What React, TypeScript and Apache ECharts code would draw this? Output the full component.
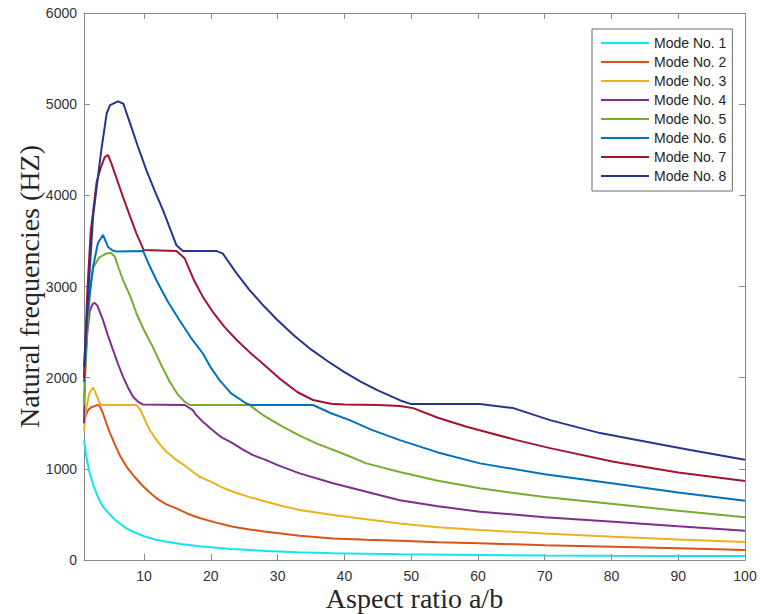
import { useEffect, useRef } from "react";
import * as echarts from "echarts";

const modeNames = [
  "Mode No. 1",
  "Mode No. 2",
  "Mode No. 3",
  "Mode No. 4",
  "Mode No. 5",
  "Mode No. 6",
  "Mode No. 7",
  "Mode No. 8",
];

const modeColors = [
  "#12E4F0",
  "#D95319",
  "#EDB120",
  "#7E2F8E",
  "#77AC30",
  "#0072BD",
  "#A2142F",
  "#26358F",
];

const xTicks = [10, 20, 30, 40, 50, 60, 70, 80, 90, 100];

const mode1: [number, number][] = [
  [1, 1310], [1.36, 1130], [1.86, 950], [2.4, 820], [2.86, 731], [3.36, 650],
  [3.85, 584], [4.85, 500], [5.6, 445], [6.35, 400], [7.3, 350], [8.35, 310],
  [10, 260], [11.5, 228], [13.35, 201], [15.5, 175], [18.3, 150], [23, 120],
  [28.3, 100], [33, 85], [38.3, 75], [48.3, 62], [60, 55], [70, 50], [80, 47],
  [90, 45], [100, 44],
];

const mode2: [number, number][] = [
  [1, 1500], [1.3, 1590], [1.6, 1644], [2.1, 1675], [2.6, 1688], [3.0, 1700],
  [3.36, 1690], [3.85, 1607], [4.35, 1500], [4.85, 1400], [5.6, 1270], [6.35, 1150],
  [7.5, 1010], [8.6, 910], [9.7, 820], [10.85, 740], [12, 670], [13.35, 610],
  [15, 560], [16.6, 505], [18.3, 460], [20.8, 410], [23.3, 365], [25.8, 335],
  [28.3, 310], [33.3, 265], [38.3, 235], [43.3, 222], [48.3, 210], [54, 195],
  [60.3, 183], [70, 163], [80.3, 146], [90, 128], [100, 110],
];

const mode3: [number, number][] = [
  [1, 1420], [1.3, 1650], [1.8, 1830], [2.35, 1893], [2.8, 1820], [3.36, 1717],
  [3.8, 1700], [8.86, 1700], [9.5, 1640], [10.35, 1498], [10.85, 1425], [12, 1300],
  [13.35, 1187], [14.6, 1110], [16, 1040], [18.3, 913], [20, 860], [21.6, 800],
  [23.3, 749], [25.8, 690], [28.3, 639], [30.8, 590], [33.3, 548], [38.3, 493],
  [43.3, 446], [48.3, 400], [54, 360], [60.3, 329], [70, 290], [80.3, 255],
  [90, 225], [100, 197],
];

const mode4: [number, number][] = [
  [1, 1500], [1.15, 2100], [1.5, 2500], [1.86, 2730], [2.3, 2810], [2.6, 2820],
  [3, 2790], [3.85, 2630], [4.6, 2460], [5.35, 2302], [6.1, 2150], [6.85, 2009],
  [7.6, 1890], [8.35, 1790], [9.1, 1735], [9.85, 1705], [16.1, 1700], [17.3, 1644],
  [17.8, 1590], [18.9, 1510], [20, 1440], [21.5, 1350], [23.3, 1280], [24.8, 1210],
  [26.3, 1150], [28.3, 1096], [30, 1040], [33.3, 950], [38.3, 841], [43.3, 749],
  [48.3, 655], [54, 590], [60.3, 529], [70, 470], [80.3, 420], [90, 370],
  [100, 321],
];

const mode5: [number, number][] = [
  [1, 1700], [1.5, 2550], [2, 3020], [2.4, 3210], [3.3, 3320], [4.3, 3360],
  [5, 3370], [5.6, 3330], [6.2, 3200], [6.85, 3069], [8, 2880], [8.86, 2704],
  [10, 2520], [11.3, 2338], [12.5, 2150], [13.8, 1960], [15, 1820], [16.1, 1735],
  [16.85, 1700], [25.8, 1700], [26.5, 1660], [28, 1580], [30.8, 1461], [33.3, 1365],
  [35.8, 1279], [40, 1160], [43.3, 1060], [48.3, 965], [54, 870], [60.3, 786],
  [70, 690], [80.3, 614], [90, 540], [100, 468],
];

const mode6: [number, number][] = [
  [1, 1950], [1.5, 2700], [2.35, 3215], [3.1, 3480], [3.85, 3565], [4.6, 3434],
  [5.3, 3395], [5.85, 3385], [9.85, 3390], [10.8, 3230], [11.85, 3069], [13.5, 2840],
  [15.3, 2630], [17, 2440], [18.8, 2265], [20, 2110], [21.3, 1973], [23, 1830],
  [25.3, 1717], [26, 1700], [35.3, 1700], [38, 1610], [40.8, 1534], [44, 1430],
  [48.3, 1315], [54, 1180], [60.3, 1060], [70, 940], [80.3, 840], [90, 740],
  [100, 650],
];

const mode7: [number, number][] = [
  [1, 2000], [1.5, 2950], [2, 3600], [2.9, 4150], [3.5, 4300], [4.1, 4420],
  [4.6, 4440], [5.1, 4350], [6, 4160], [6.85, 3980], [7.9, 3770], [8.86, 3580],
  [9.95, 3400], [14.85, 3390], [16.1, 3307], [17.4, 3080], [18.8, 2886], [20.4, 2710],
  [22, 2560], [23.9, 2410], [25.8, 2280], [28, 2140], [30.3, 1990], [33, 1840],
  [35.3, 1755], [38, 1715], [40, 1705], [45, 1700], [48.3, 1688], [50.3, 1666],
  [54, 1560], [58.3, 1461], [65.8, 1315], [70.8, 1227], [80.3, 1077], [90, 960],
  [100, 866],
];

const mode8: [number, number][] = [
  [1, 2120], [1.7, 3000], [2.35, 3760], [2.9, 4090], [3.6, 4500], [4.4, 4900],
  [4.9, 4990], [6.1, 5030], [6.9, 5005], [7.9, 4790], [9.1, 4530], [10.35, 4274],
  [11.6, 4050], [12.84, 3836], [14.85, 3452], [15.8, 3390], [20.8, 3390], [21.8, 3360],
  [23.8, 3150], [25.8, 2960], [28, 2780], [30, 2630], [32.5, 2460], [35, 2310],
  [37.5, 2180], [40, 2060], [42.5, 1955], [45, 1860], [48.3, 1753], [50, 1710],
  [60.3, 1710], [65.3, 1666], [70.8, 1534], [78.3, 1392], [85, 1300], [91.8, 1206],
  [100, 1100],
];

const modeData = [mode1, mode2, mode3, mode4, mode5, mode6, mode7, mode8];

const axisGray = "#8a8a8a";
const labelColor = "#333333";

export default function App() {
  const ref = useRef<HTMLDivElement>(null);

  useEffect(() => {
    document.body.style.margin = "0";
    const chart = echarts.init(ref.current!, null, { renderer: "svg" });

    const xBase = (pos: "bottom" | "top", showLabel: boolean) => ({
      type: "value",
      position: pos,
      min: 1,
      max: 100,
      axisLine: { show: true, onZero: false, lineStyle: { color: axisGray, width: 1 } },
      axisTick: {
        show: true,
        inside: true,
        length: 6,
        customValues: xTicks,
        lineStyle: { color: axisGray },
      },
      axisLabel: {
        show: showLabel,
        customValues: xTicks,
        color: labelColor,
        fontSize: 14,
        fontFamily: "Liberation Sans, Arial, sans-serif",
        margin: 9,
        formatter: (v: number) => String(v),
      },
      splitLine: { show: false },
    });

    const yBase = (pos: "left" | "right", showLabel: boolean) => ({
      type: "value",
      position: pos,
      min: 0,
      max: 6000,
      interval: 1000,
      axisLine: { show: true, onZero: false, lineStyle: { color: axisGray, width: 1 } },
      axisTick: { show: true, inside: true, length: 6, lineStyle: { color: axisGray } },
      axisLabel: {
        show: showLabel,
        color: labelColor,
        fontSize: 14,
        fontFamily: "Liberation Sans, Arial, sans-serif",
        margin: 7,
        formatter: (v: number) => String(v),
      },
      splitLine: { show: false },
    });

    chart.setOption({
      animation: false,
      backgroundColor: "#ffffff",
      grid: {
        left: 84,
        right: 15,
        top: 13,
        bottom: 54,
        containLabel: false,
        outerBoundsMode: "none",
      },
      xAxis: [xBase("bottom", true), xBase("top", false)],
      yAxis: [yBase("left", true), yBase("right", false)],
      legend: {
        orient: "vertical",
        left: 592,
        top: 29,
        padding: [7, 6, 8, 9],
        icon: "rect",
        itemWidth: 48,
        itemHeight: 2,
        itemGap: 5,
        backgroundColor: "#ffffff",
        borderColor: "#6a6a6a",
        borderWidth: 1,
        borderRadius: 0,
        data: modeNames,
        textStyle: {
          color: "#262626",
          fontSize: 14,
          lineHeight: 14,
          height: 14,
          fontFamily: "Liberation Sans, Arial, sans-serif",
        },
      },
      graphic: [
        {
          type: "text",
          x: 414.5,
          y: 598,
          style: {
            text: "Aspect ratio a/b",
            font: '28px "Liberation Serif", "Times New Roman", serif',
            fill: "#262626",
            textAlign: "center",
            textVerticalAlign: "middle",
          },
        },
        {
          type: "text",
          x: 29,
          y: 286.5,
          rotation: Math.PI / 2,
          style: {
            text: "Natural frequencies (HZ)",
            font: '28px "Liberation Serif", "Times New Roman", serif',
            fill: "#262626",
            textAlign: "center",
            textVerticalAlign: "middle",
          },
        },
      ],
      series: modeData.map((d, i) => ({
        name: modeNames[i],
        type: "line",
        xAxisIndex: 0,
        yAxisIndex: 0,
        data: d,
        symbol: "none",
        smooth: false,
        lineStyle: { color: modeColors[i], width: 2 },
        itemStyle: { color: modeColors[i] },
      })),
    });

    return () => chart.dispose();
  }, []);

  return <div ref={ref} style={{ width: 760, height: 614 }} />;
}
